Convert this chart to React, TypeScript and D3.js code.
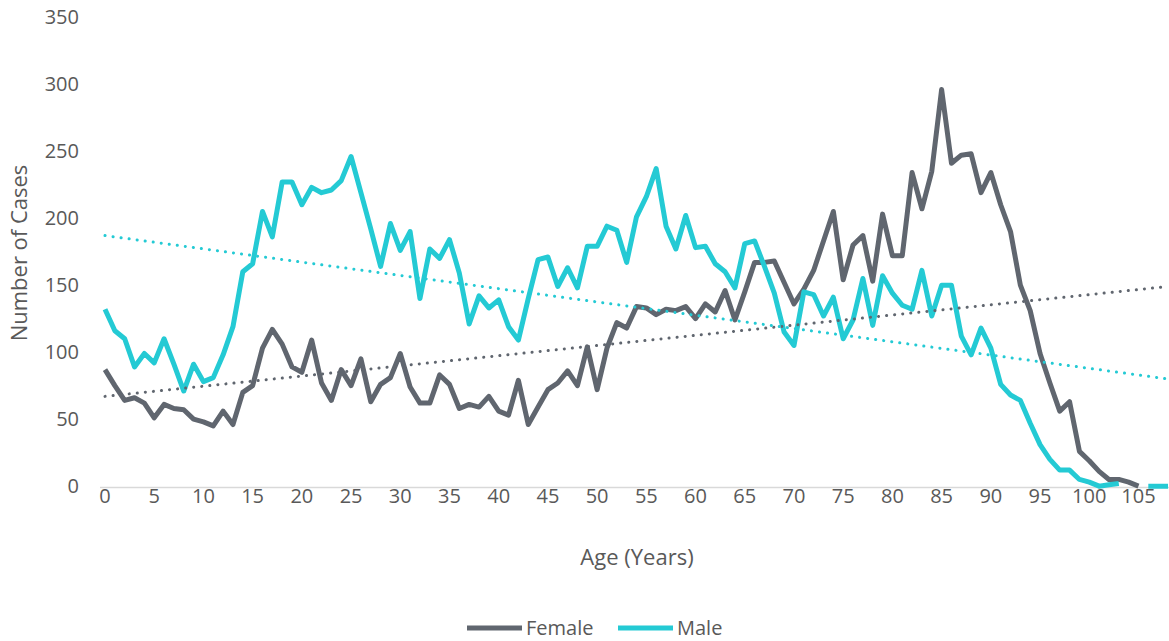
import * as d3 from 'd3';
import * as React from 'react';

const width = 1169;
const height = 641;

// ages 0..108 (categories)
const ages = d3.range(0, 109);

const female: (number | null)[] = [
  88, 76, 65, 67, 63, 52, 62, 59, 58, 51, 49, 46, 57, 47, 71, 76, 104, 118, 107, 90,
  86, 110, 78, 65, 88, 76, 96, 64, 77, 82, 100, 75, 63, 63, 84, 77, 59, 62, 60, 68,
  57, 54, 80, 47, 60, 73, 78, 87, 76, 105, 73, 104, 123, 119, 135, 134, 129, 133, 132, 135,
  126, 137, 131, 147, 125, 146, 168, 168, 169, 153, 137, 148, 162, 184, 206, 155, 181, 188, 154, 204,
  173, 173, 235, 208, 236, 297, 242, 248, 249, 220, 235, 211, 191, 151, 132, 100, 78, 57, 64, 27,
  20, 12, 6, 6, 4, 1, null, null, null,
];

const male: (number | null)[] = [
  133, 117, 111, 90, 100, 93, 111, 92, 72, 92, 79, 82, 99, 120, 161, 167, 206, 187, 228, 228,
  211, 224, 220, 222, 229, 247, 220, 193, 165, 197, 177, 191, 141, 178, 171, 185, 160, 122, 143, 134,
  140, 120, 110, 141, 170, 172, 150, 164, 149, 180, 180, 195, 192, 168, 202, 217, 238, 195, 178, 203,
  179, 180, 167, 161, 149, 182, 184, 165, 145, 116, 106, 146, 144, 128, 142, 111, 125, 156, 121, 158,
  145, 136, 133, 162, 128, 151, 151, 113, 99, 119, 104, 77, 69, 65, 48, 32, 21, 13, 13, 6,
  4, 1, 2, 3, null, null, 1, 1, 1,
];

// linear trendlines, value at first and last category
const femaleTrend = [68, 150];
const maleTrend = [188, 81];

const yTicks = [0, 50, 100, 150, 200, 250, 300, 350];
const xTicks = d3.range(0, 106, 5);

const seriesNames = ['Female', 'Male'];
const colors = ['#60666f', '#24cad4'];

const font = "'Open Sans', sans-serif";
const textColor = '#595959';

export default function App() {
  const x = d3.scalePoint<number>().domain(ages).range([105, 1168]);
  const y = d3.scaleLinear().domain([0, 350]).range([487.5, 18.5]);

  const line = d3
    .line<number | null>()
    .defined(d => d != null)
    .x((d, i) => x(ages[i]) as number)
    .y(d => y(d as number));

  const series = [female, male];
  const trends = [femaleTrend, maleTrend];

  return (
    <svg
      width={width}
      height={height}
      style={{ position: 'absolute', left: 0, top: 0, background: '#fff' }}
    >
      {/* axis baseline */}
      <line x1={100} x2={1169} y1={y(0)} y2={y(0)} stroke="#d9d9d9" strokeWidth={1.5} />

      {yTicks.map(t => (
        <text
          key={t}
          x={79}
          y={y(t)}
          textAnchor="end"
          dominantBaseline="middle"
          fontFamily={font}
          fontSize={20}
          fill={textColor}
        >
          {t}
        </text>
      ))}

      {xTicks.map(t => (
        <text
          key={t}
          x={x(t)}
          y={503}
          textAnchor="middle"
          fontFamily={font}
          fontSize={20}
          fill={textColor}
        >
          {t}
        </text>
      ))}

      <text
        transform="translate(27,253) rotate(-90)"
        textAnchor="middle"
        fontFamily={font}
        fontSize={22}
        fill={textColor}
      >
        Number of Cases
      </text>
      <text x={637} y={565} textAnchor="middle" fontFamily={font} fontSize={22} fill={textColor}>
        Age (Years)
      </text>

      {series.map((s, i) => (
        <path
          key={seriesNames[i]}
          d={line(s) as string}
          fill="none"
          stroke={colors[i]}
          strokeWidth={5}
          strokeLinejoin="round"
        />
      ))}

      {trends.map((t, i) => (
        <line
          key={'t' + i}
          x1={x(ages[0])}
          y1={y(t[0])}
          x2={x(ages[ages.length - 1])}
          y2={y(t[1])}
          stroke={colors[i]}
          strokeWidth={3}
          strokeDasharray="0.1 8"
          strokeLinecap="round"
        />
      ))}

      {/* legend */}
      {seriesNames.map((name, i) => {
        const lx = i === 0 ? 467 : 618;
        return (
          <g key={name}>
            <line x1={lx} x2={lx + 55} y1={628} y2={628} stroke={colors[i]} strokeWidth={5} />
            <text x={lx + 59} y={635} fontFamily={font} fontSize={20} fill={textColor}>
              {name}
            </text>
          </g>
        );
      })}
    </svg>
  );
}
